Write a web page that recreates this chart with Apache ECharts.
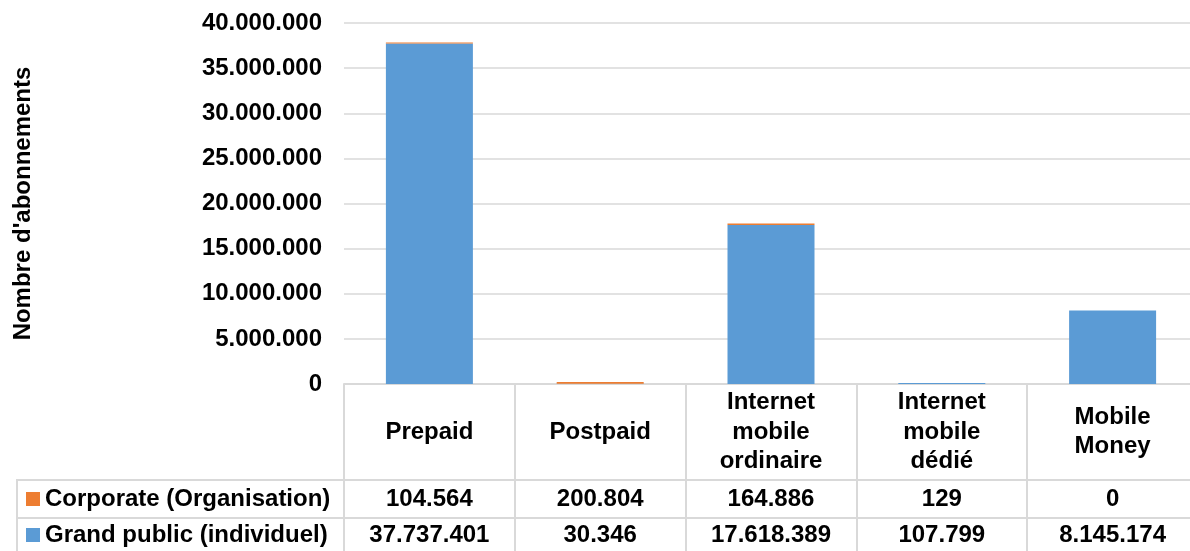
<!DOCTYPE html>
<html>
<head>
<meta charset="utf-8">
<script src="https://cdn.jsdelivr.net/npm/echarts@6/dist/echarts.min.js"></script>
<style>
html,body{margin:0;padding:0;background:#fff;}
#chart{width:1190px;height:551px;}
</style>
</head>
<body>
<div id="chart"></div>
<script>
var categories = ['Prepaid', 'Postpaid', 'Internet\nmobile\nordinaire', 'Internet\nmobile\ndédié', 'Mobile\nMoney'];
var corporate = [104564, 200804, 164886, 129, 0];
var grandPublic = [37737401, 30346, 17618389, 107799, 8145174];
var seriesNames = ['Corporate (Organisation)', 'Grand public (individuel)'];
var yTicks = { min: 0, max: 40000000, interval: 5000000 };
var yTitle = "Nombre d'abonnements";

function fmt(n) { return String(n).replace(/\B(?=(\d{3})+(?!\d))/g, '.'); }

var FONT = '"Liberation Sans", Arial, sans-serif';
var GRID_C = '#d9d9d9';
var TABLE_C = '#d9d9d9';
var txt = { fontFamily: FONT, fontWeight: 'bold', fontSize: 24, color: '#000' };

var chart = echarts.init(document.getElementById('chart'), null, { renderer: 'canvas' });
chart.setOption({
  animation: false,
  backgroundColor: '#fff',
  grid: { left: 344, right: -8, top: 23, bottom: 167, containLabel: false, outerBoundsMode: 'none' },
  legend: {
    data: seriesNames,
    orient: 'vertical',
    left: 26, top: 487,
    padding: 0,
    itemGap: 12,
    itemWidth: 14, itemHeight: 14,
    icon: 'rect',
    selectedMode: false,
    textStyle: Object.assign({}, txt, { lineHeight: 24 })
  },
  xAxis: [
    {
      type: 'category', data: categories, position: 'bottom',
      axisLine: { show: true, lineStyle: { color: TABLE_C, width: 2 } },
      axisTick: { show: true, interval: 0, length: 175, lineStyle: { color: TABLE_C, width: 2 } },
      axisLabel: Object.assign({}, txt, { interval: 0, margin: 48, verticalAlign: 'middle', lineHeight: 29.5, align: 'center' }),
      splitLine: { show: false }
    },
    {
      type: 'category', data: corporate.map(fmt), position: 'bottom', offset: 96,
      axisLine: { show: true, lineStyle: { color: TABLE_C, width: 2 } },
      axisTick: { show: false },
      axisLabel: Object.assign({}, txt, { interval: 0, margin: 19, verticalAlign: 'middle' }),
      splitLine: { show: false }
    },
    {
      type: 'category', data: grandPublic.map(fmt), position: 'bottom', offset: 134,
      axisLine: { show: true, lineStyle: { color: TABLE_C, width: 2 } },
      axisTick: { show: false },
      axisLabel: Object.assign({}, txt, { interval: 0, margin: 17, verticalAlign: 'middle' }),
      splitLine: { show: false }
    }
  ],
  yAxis: {
    type: 'value', min: yTicks.min, max: yTicks.max, interval: yTicks.interval,
    name: yTitle, nameLocation: 'middle', nameRotate: 90, nameGap: 309,
    nameTextStyle: Object.assign({}, txt),
    axisLine: { show: false }, axisTick: { show: false },
    axisLabel: Object.assign({}, txt, { margin: 22, formatter: function (v) { return fmt(v); } }),
    splitLine: { show: true, lineStyle: { color: GRID_C, width: 1.5 } }
  },
  series: [
    {
      name: seriesNames[1], type: 'bar', stack: 'total', data: grandPublic,
      barWidth: 87, itemStyle: { color: '#5B9BD5' }
    },
    {
      name: seriesNames[0], type: 'bar', stack: 'total', data: corporate,
      barWidth: 87, itemStyle: { color: '#ED7D31' }
    }
  ],
  graphic: [
    { type: 'line', shape: { x1: 17, y1: 480, x2: 344, y2: 480 }, style: { stroke: TABLE_C, lineWidth: 2 } },
    { type: 'line', shape: { x1: 17, y1: 518, x2: 344, y2: 518 }, style: { stroke: TABLE_C, lineWidth: 2 } },
    { type: 'line', shape: { x1: 17, y1: 479, x2: 17, y2: 560 }, style: { stroke: TABLE_C, lineWidth: 2 } }
  ]
});
</script>
</body>
</html>
